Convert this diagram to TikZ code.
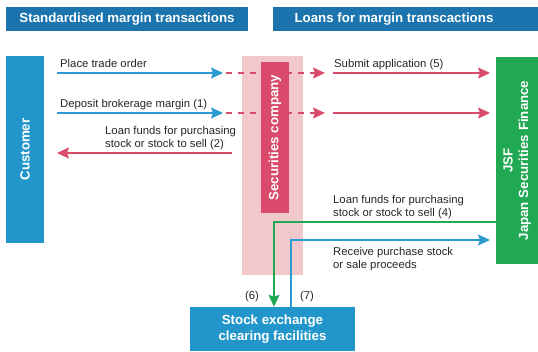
\documentclass[tikz,border=0pt]{standalone}
\usepackage{fontspec}
\setmainfont{Liberation Sans}
\usetikzlibrary{arrows.meta}

\definecolor{hdblue}{HTML}{1B74AE}
\definecolor{boxblue}{HTML}{2296CB}
\definecolor{lineblue}{HTML}{2A9AD0}
\definecolor{secred}{HTML}{D94A6B}
\definecolor{secpink}{HTML}{F3C8CD}
\definecolor{jsfgreen}{HTML}{20A852}

\tikzset{
  header/.style={fill=hdblue, text=white, inner sep=0pt, minimum height=24pt,
    font=\fontsize{13.3}{16}\selectfont\bfseries},
  party/.style={text=white, inner sep=0pt, align=center,
    font=\fontsize{13.3}{15.5}\selectfont\bfseries},
  lbl/.style={text=black!85, inner sep=0pt, anchor=base west, align=left,
    font=\fontsize{11.3}{12.5}\selectfont},
  flow/.style={line width=1.5pt, -{Stealth[length=12pt,width=11pt,inset=2pt]}},
  dashflow/.style={flow, secred, dash pattern=on 6pt off 6pt},
}

\begin{document}
\begin{tikzpicture}[x=1pt, y=-1pt]
\useasboundingbox (0,0) rectangle (538,351);

% headers
\node[header, minimum width=242pt] (hdstd) at (127,19) {Standardised margin transactions};
\node[header, minimum width=265pt] (hdloan) at (405.5,19) {\hspace*{-23pt}Loans for margin transcactions};

% parties
\node[party, fill=boxblue, rotate=90, minimum width=187pt, minimum height=38pt] (cust) at (25,149.5) {Customer};
\fill[secpink] (242,56) rectangle (303,275);
\node[party, fill=jsfgreen, rotate=90, minimum width=207pt, minimum height=42pt] (jsf) at (517,160.5) {JSF\\Japan Securities Finance};
\node[party, fill=boxblue, minimum width=165pt, minimum height=44pt] (sx) at (272.5,329) {Stock exchange\\clearing facilities};

% ends of the arrows
\coordinate (ordA) at (57,73);   \coordinate (ordB) at (223,73);
\coordinate (ordC) at (226,73);  \coordinate (ordD) at (325,73);
\coordinate (ordE) at (333,73);  \coordinate (ordF) at (490,73);
\coordinate (depA) at (57,113);  \coordinate (depB) at (223,113);
\coordinate (depC) at (226,113); \coordinate (depD) at (325,113);
\coordinate (depE) at (333,113); \coordinate (depF) at (490,113);
\coordinate (lnA) at (232,153);  \coordinate (lnB) at (57,153);
\coordinate (grA) at (496,222);  \coordinate (grB) at (274,222);
\coordinate (buA) at (291,240);  \coordinate (buB) at (490,240);

\draw[flow, lineblue] (ordA) -- (ordB);
\draw[dashflow] (ordC) -- (ordD);
\draw[flow, secred] (ordE) -- (ordF);
\draw[flow, lineblue] (depA) -- (depB);
\draw[dashflow] (depC) -- (depD);
\draw[flow, secred] (depE) -- (depF);
\draw[flow, secred] (lnA) -- (lnB);

\node[party, fill=secred, rotate=90, minimum width=151pt, minimum height=28pt] (sec) at (275,137.5) {Securities company};

\draw[flow, jsfgreen] (grA) -- (grB) -- (grB |- sx.north);
\draw[flow, lineblue] (buA |- sx.north) -- (buA) -- (buB);

% labels
\node[lbl] (tord) at (60,67) {Place trade order};
\node[lbl] (tdep) at (60,107) {Deposit brokerage margin (1)};
\node[lbl] (tln) at (105,147) {Loan funds for purchasing\\stock or stock to sell (2)};
\node[lbl] (tsub) at (334,67) {Submit application (5)};
\node[lbl] (tjln) at (333,216) {Loan funds for purchasing\\stock or stock to sell (4)};
\node[lbl] (trcv) at (333,268) {Receive purchase stock\\or sale proceeds};
\node[lbl, anchor=base] (tsix) at (252,299) {(6)};
\node[lbl, anchor=base] (tsev) at (307,299) {(7)};
\end{tikzpicture}
\end{document}
